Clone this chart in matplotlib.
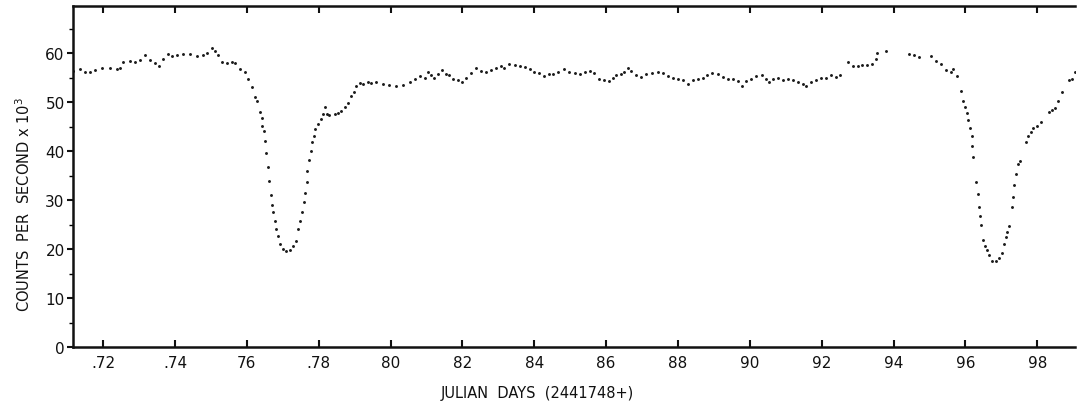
import matplotlib.pyplot as plt
from matplotlib.ticker import MultipleLocator

# Julian days (2441748+) and counts per second x 10^3
days = [
    0.7116, 0.7135, 0.7149, 0.7163, 0.7177, 0.7196, 0.7219, 0.7238, 0.7246, 0.7255,
    0.7274, 0.7288, 0.7302, 0.7316, 0.7330, 0.7344, 0.7355, 0.7366, 0.7380, 0.7391,
    0.7405, 0.7422, 0.7441, 0.7461, 0.7477, 0.7488, 0.7502, 0.7511, 0.7519, 0.7530,
    0.7544, 0.7558, 0.7566, 0.7580, 0.7594, 0.7602, 0.7614, 0.7622, 0.7627, 0.7636,
    0.7641, 0.7643, 0.7648, 0.7651, 0.7654, 0.7659, 0.7662, 0.7666, 0.7670, 0.7674,
    0.7677, 0.7682, 0.7687, 0.7693, 0.7701, 0.7710, 0.7719, 0.7728, 0.7736, 0.7742,
    0.7749, 0.7753, 0.7758, 0.7762, 0.7766, 0.7768, 0.7773, 0.7778, 0.7781, 0.7786,
    0.7791, 0.7798, 0.7805, 0.7812, 0.7817, 0.7823, 0.7830, 0.7844, 0.7853, 0.7863,
    0.7872, 0.7881, 0.7891, 0.7897, 0.7905, 0.7914, 0.7923, 0.7937, 0.7946, 0.7960,
    0.7979, 0.7997, 0.8016, 0.8034, 0.8053, 0.8067, 0.8081, 0.8095, 0.8104, 0.8113,
    0.8122, 0.8132, 0.8143, 0.8155, 0.8164, 0.8175, 0.8187, 0.8198, 0.8211, 0.8224,
    0.8238, 0.8252, 0.8266, 0.8280, 0.8294, 0.8308, 0.8317, 0.8331, 0.8345, 0.8359,
    0.8373, 0.8387, 0.8400, 0.8414, 0.8428, 0.8440, 0.8452, 0.8465, 0.8484, 0.8498,
    0.8512, 0.8526, 0.8540, 0.8554, 0.8567, 0.8581, 0.8595, 0.8609, 0.8618, 0.8628,
    0.8642, 0.8651, 0.8660, 0.8669, 0.8683, 0.8697, 0.8711, 0.8729, 0.8743, 0.8757,
    0.8771, 0.8785, 0.8799, 0.8813, 0.8829, 0.8841, 0.8855, 0.8869, 0.8882, 0.8896,
    0.8910, 0.8924, 0.8938, 0.8952, 0.8966, 0.8978, 0.8989, 0.9003, 0.9017, 0.9035,
    0.9045, 0.9054, 0.9065, 0.9077, 0.9091, 0.9105, 0.9119, 0.9133, 0.9147, 0.9156,
    0.9170, 0.9184, 0.9198, 0.9212, 0.9226, 0.9239, 0.9251, 0.9272, 0.9286, 0.9300,
    0.9313, 0.9327, 0.9341, 0.9352, 0.9355, 0.9378, 0.9443, 0.9457, 0.9471, 0.9504,
    0.9518, 0.9531, 0.9545, 0.9559, 0.9565, 0.9577, 0.9587, 0.9594, 0.9600, 0.9604,
    0.9608, 0.9612, 0.9617, 0.9619, 0.9622, 0.9629, 0.9635, 0.9638, 0.9642, 0.9644,
    0.9650, 0.9655, 0.9659, 0.9666, 0.9675, 0.9684, 0.9694, 0.9701, 0.9707, 0.9712,
    0.9717, 0.9721, 0.9729, 0.9733, 0.9736, 0.9742, 0.9747, 0.9751, 0.9768, 0.9775,
    0.9782, 0.9789, 0.9798, 0.9810, 0.9833, 0.9842, 0.9849, 0.9859, 0.9868, 0.9888,
    0.9897, 0.9905,
]
counts = [
    56.4, 56.7, 56.2, 56.1, 56.5, 56.9, 57.0, 56.7, 57.0, 58.1,
    58.4, 58.1, 58.5, 59.6, 58.6, 58.0, 57.4, 58.8, 59.8, 59.4,
    59.6, 59.8, 59.9, 59.3, 59.5, 60.0, 61.0, 60.5, 59.5, 58.1,
    58.0, 58.1, 57.9, 56.7, 56.2, 54.7, 53.1, 51.0, 50.3, 48.0,
    46.7, 45.2, 44.1, 42.1, 39.5, 36.7, 33.8, 31.1, 29.0, 27.5,
    25.8, 24.1, 22.7, 21.0, 20.0, 19.5, 19.9, 20.7, 21.7, 24.1,
    25.8, 27.5, 29.5, 31.4, 33.6, 36.0, 38.2, 40.1, 41.8, 43.1,
    44.5, 45.5, 46.5, 47.6, 48.9, 47.6, 47.4, 47.6, 47.8, 48.2,
    48.9, 49.8, 51.3, 52.0, 53.3, 53.9, 53.7, 54.1, 53.8, 54.0,
    53.7, 53.5, 53.3, 53.5, 54.0, 54.7, 55.4, 55.0, 56.2, 55.5,
    55.0, 55.7, 56.6, 55.7, 55.5, 54.8, 54.4, 54.0, 55.0, 55.9,
    56.9, 56.4, 56.2, 56.6, 56.9, 57.3, 56.9, 57.8, 57.6, 57.4,
    57.1, 56.7, 56.2, 55.9, 55.4, 55.7, 55.7, 56.2, 56.7, 56.2,
    55.9, 55.7, 56.2, 56.4, 55.9, 54.8, 54.4, 54.2, 55.0, 55.5,
    55.7, 56.2, 56.9, 56.4, 55.5, 55.2, 55.7, 56.0, 56.2, 55.9,
    55.4, 55.0, 54.7, 54.4, 53.7, 54.4, 54.8, 55.0, 55.5, 55.9,
    55.7, 55.2, 54.8, 54.8, 54.2, 53.3, 54.2, 54.8, 55.4, 55.5,
    54.8, 54.0, 54.7, 55.0, 54.6, 54.7, 54.4, 54.0, 53.7, 53.2,
    54.0, 54.6, 55.0, 55.0, 55.5, 55.2, 55.5, 58.1, 57.4, 57.3,
    57.6, 57.6, 57.8, 58.8, 60.1, 60.5, 59.8, 59.6, 59.1, 59.3,
    58.4, 57.7, 56.5, 56.2, 56.7, 55.4, 52.3, 50.3, 48.9, 47.7,
    46.4, 44.8, 43.0, 41.1, 38.8, 33.6, 31.2, 28.5, 26.8, 25.0,
    21.8, 20.7, 19.7, 18.8, 17.6, 17.6, 18.1, 19.2, 21.0, 22.4,
    23.4, 24.6, 28.5, 30.7, 33.1, 35.3, 37.3, 38.0, 41.9, 43.1,
    43.8, 44.6, 45.2, 46.0, 47.9, 48.4, 48.7, 50.3, 52.1, 54.4,
    54.8, 56.2,
]

x_ticks = [0.72, 0.74, 0.76, 0.78, 0.80, 0.82, 0.84, 0.86, 0.88, 0.90, 0.92, 0.94, 0.96, 0.98]
x_labels = [".72", ".74", "76", ".78", "80", "82", "84", "86", "88", "90", "92", "94", "96", "98"]
y_ticks = [0, 10, 20, 30, 40, 50, 60]

fig = plt.figure(figsize=(10.78, 4.10), dpi=100)
ax = fig.add_axes([0.0677, 0.1512, 0.9295, 0.8317])

ax.plot(days, counts, ".", color="#1a1a1a", markersize=4.2, markeredgewidth=0)

ax.set_xlim(0.7116, 0.9905)
ax.set_ylim(0, 69.6)
ax.set_xticks(x_ticks)
ax.set_xticklabels(x_labels)
ax.set_yticks(y_ticks)
ax.yaxis.set_minor_locator(MultipleLocator(5))

for side in ["left", "bottom", "top"]:
    ax.spines[side].set_linewidth(1.8)
    ax.spines[side].set_color("#111111")
ax.spines["right"].set_visible(False)

ax.tick_params(axis="x", which="major", direction="in", length=5, width=1.5,
               top=True, labelsize=11, pad=6, colors="#111111")
ax.tick_params(axis="y", which="major", direction="out", length=4, width=1.5,
               labelsize=11, pad=2, colors="#111111")
ax.tick_params(axis="y", which="minor", direction="out", length=3, width=1.0)

fig.text(0.498, 0.041, "JULIAN  DAYS  (2441748+)", ha="center", va="center",
         fontsize=10.5, color="#111111")
fig.text(0.022, 0.50, "COUNTS  PER  SECOND x 10$^3$", ha="center", va="center",
         rotation=90, fontsize=10.5, color="#111111")

fig.savefig("out.png", dpi=100, facecolor="white")
